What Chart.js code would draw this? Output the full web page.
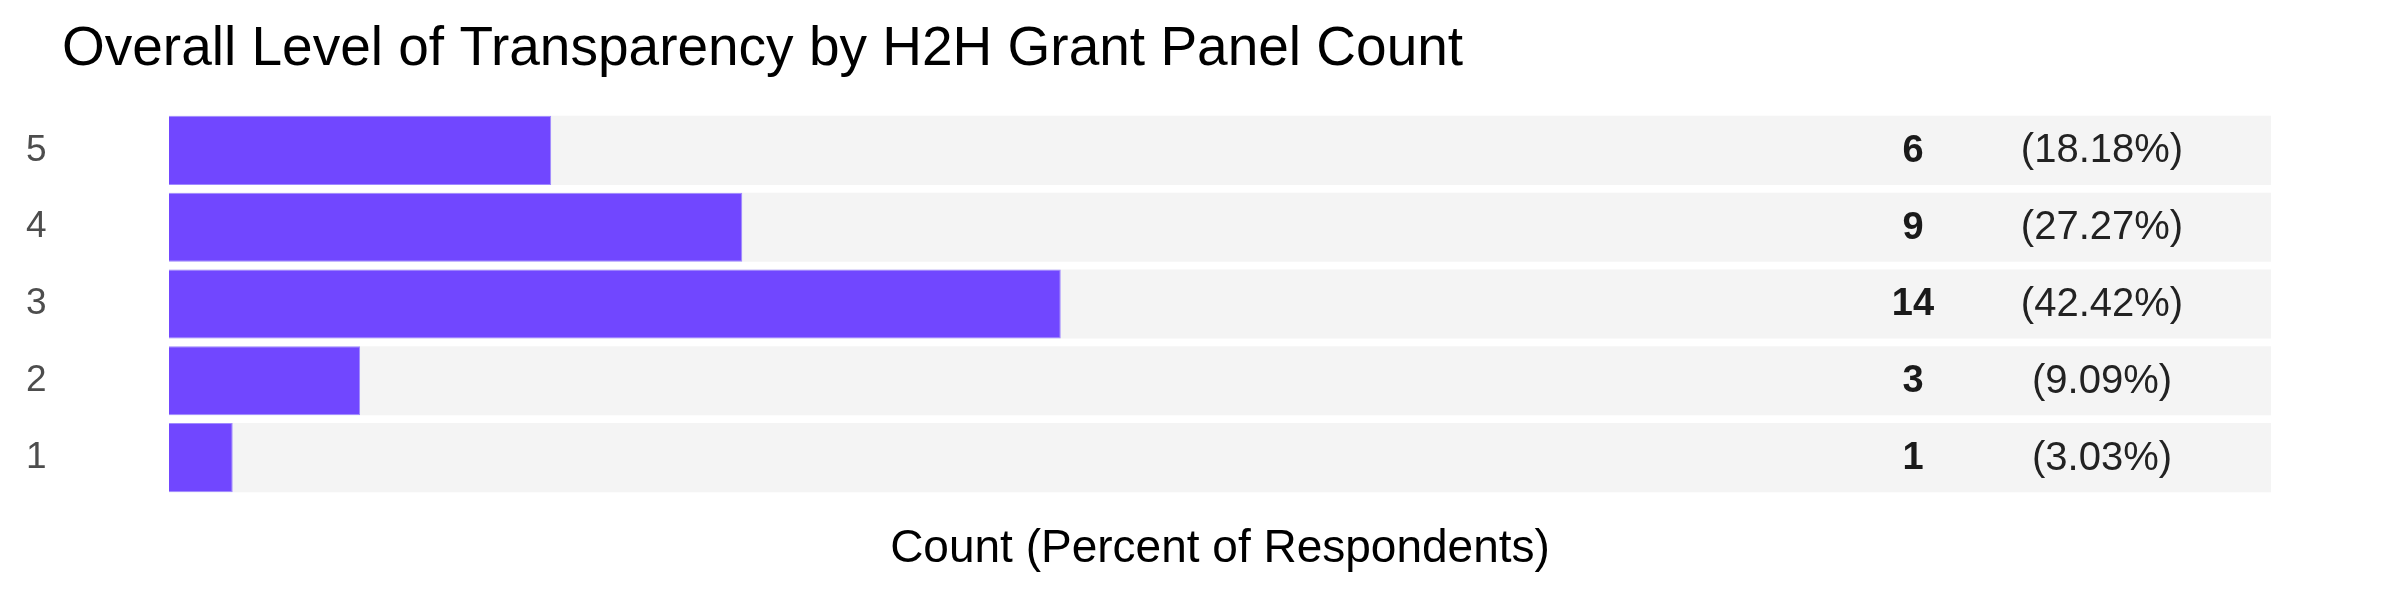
<!DOCTYPE html>
<html>
<head>
<meta charset="utf-8">
<script src="https://cdn.jsdelivr.net/npm/chart.js@4"></script>
<style>
  html, body { margin: 0; padding: 0; background: #fff; }
  #wrap { width: 2399px; height: 599px; }
</style>
</head>
<body>
<div id="wrap"><canvas id="bar-chart"></canvas></div>
<script>
// rating levels, top row first
var levels = ['5', '4', '3', '2', '1'];
var counts = [6, 9, 14, 3, 1];
var percents = [18.18, 27.27, 42.42, 9.09, 3.03];
var totalRespondents = 33;
var backdrop = [33, 33, 33, 33, 33];

var FONT = "'Liberation Sans', Arial, Helvetica, sans-serif";

// writes "count  (pct%)" at the right end of each row
var rowLabels = {
    id: 'rowLabels',
    afterLayout: function(chart) {
        // title sits further right than the tick labels
        if (chart.titleBlock) {
            chart.titleBlock.left += 36;
        }
    },
    afterDatasetsDraw: function(chart) {
        var ctx = chart.ctx;
        var area = chart.chartArea;
        var yScale = chart.scales.y;
        ctx.save();
        ctx.textAlign = 'center';
        ctx.textBaseline = 'middle';
        levels.forEach(function(lvl, i) {
            var y = yScale.getPixelForValue(i);
            ctx.fillStyle = '#1a1a1a';
            ctx.font = 'bold 38px ' + FONT;
            ctx.fillText(String(counts[i]), area.right - 358, y + 1);
            ctx.fillStyle = '#222222';
            ctx.font = '40px ' + FONT;
            ctx.fillText('(' + percents[i].toFixed(2) + '%)', area.right - 169, y + 1);
        });
        ctx.restore();
    }
};

document.addEventListener('DOMContentLoaded', function() {
    var ctx = document.getElementById('bar-chart').getContext('2d');
    var myChart = new Chart(ctx, {
        type: 'bar',
        data: {
            labels: levels,
            datasets: [
                {
                    // purple count bars
                    data: counts,
                    backgroundColor: '#7147ff',
                    borderColor: '#a08aff',
                    borderWidth: 1,
                    order: 1
                },
                {
                    // light grey row backdrop
                    data: backdrop,
                    backgroundColor: '#f4f4f4',
                    borderWidth: 0,
                    order: 2
                }
            ]
        },
        options: {
            indexAxis: 'y',
            responsive: true,
            maintainAspectRatio: false,
            animation: false,
            datasets: {
                bar: {
                    grouped: false,
                    barPercentage: 0.9,
                    categoryPercentage: 1.0
                }
            },
            layout: {
                padding: { left: 26, right: 128, top: 0, bottom: 22 }
            },
            scales: {
                x: {
                    min: 0,
                    max: totalRespondents,
                    grid: { display: false },
                    border: { display: false },
                    ticks: { display: false },
                    title: {
                        display: true,
                        text: 'Count (Percent of Respondents)',
                        color: '#000',
                        font: { family: FONT, size: 46 },
                        padding: { top: 0, bottom: 0 }
                    },
                    afterFit: function(scale) { scale.height = 81; }
                },
                y: {
                    grid: { display: false, drawTicks: false },
                    border: { display: false },
                    ticks: {
                        color: '#4d4d4d',
                        padding: 0,
                        crossAlign: 'far',
                        autoSkip: false,
                        font: { family: FONT, size: 37 }
                    },
                    afterFit: function(scale) {
                        scale.width = 143;
                        scale.paddingTop = 0;
                        scale.paddingBottom = 0;
                    }
                }
            },
            plugins: {
                legend: { display: false },
                tooltip: { enabled: false },
                title: {
                    display: true,
                    text: 'Overall Level of Transparency by H2H Grant Panel Count',
                    align: 'start',
                    color: '#000',
                    font: { family: FONT, size: 55, weight: 'normal' },
                    padding: { top: 17, bottom: 29 }
                }
            }
        },
        plugins: [rowLabels]
    });
});
</script>
</body>
</html>
